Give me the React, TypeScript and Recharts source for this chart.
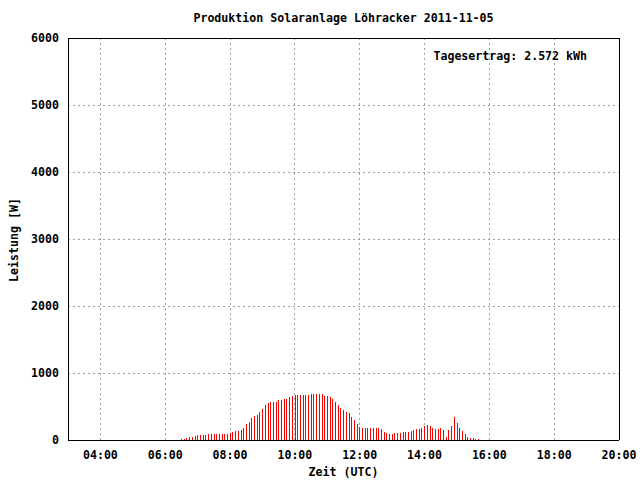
import React from 'react';
import { BarChart, Bar, XAxis, YAxis, CartesianGrid } from 'recharts';

const times: string[] = [
  '06:30','06:35','06:40','06:45','06:50','06:55',
  '07:00','07:05','07:10','07:15','07:20','07:25','07:30','07:35','07:40','07:45','07:50','07:55',
  '08:00','08:05','08:10','08:15','08:20','08:25','08:30','08:35','08:40','08:45','08:50','08:55',
  '09:00','09:05','09:10','09:15','09:20','09:25','09:30','09:35','09:40','09:45','09:50','09:55',
  '10:00','10:05','10:10','10:15','10:20','10:25','10:30','10:35','10:40','10:45','10:50','10:55',
  '11:00','11:05','11:10','11:15','11:20','11:25','11:30','11:35','11:40','11:45','11:50','11:55',
  '12:00','12:05','12:10','12:15','12:20','12:25','12:30','12:35','12:40','12:45','12:50','12:55',
  '13:00','13:05','13:10','13:15','13:20','13:25','13:30','13:35','13:40','13:45','13:50','13:55',
  '14:00','14:05','14:10','14:15','14:20','14:25','14:30','14:35','14:40','14:45','14:50','14:55',
  '15:00','15:05','15:10','15:15','15:20','15:25','15:30','15:35','15:40',
];

const power: number[] = [
  20, 20, 35, 50, 50, 65,
  80, 80, 80, 80, 95, 95, 95, 95, 95, 95, 95, 95,
  110, 120, 130, 140, 155, 185, 245, 275, 335, 365, 380, 425,
  470, 515, 545, 560, 560, 560, 590, 600, 615, 615, 645, 660,
  665, 665, 670, 670, 670, 670, 685, 680, 680, 680, 680, 655,
  655, 640, 610, 565, 515, 485, 455, 425, 400, 350, 295, 245,
  200, 185, 185, 185, 185, 185, 185, 185, 170, 125, 110, 95,
  95, 110, 110, 110, 125, 125, 125, 140, 155, 170, 170, 185,
  215, 230, 215, 185, 170, 170, 185, 155, 50, 155, 215, 350,
  260, 185, 140, 95, 50, 35, 35, 20, 20,
];

const xMajorTicks: number[] = [4, 6, 8, 10, 12, 14, 16, 18, 20];
const xMinorTicks: number[] = [5, 7, 9, 11, 13, 15, 17, 19];
const yTicks: number[] = [0, 1000, 2000, 3000, 4000, 5000, 6000];
const xDomain: [number, number] = [3, 20];
const yDomain: [number, number] = [0, 6000];

const titleText = 'Produktion Solaranlage Löhracker 2011-11-05';
const xLabelText = 'Zeit (UTC)';
const yLabelText = 'Leistung [W]';
const noteText = 'Tagesertrag: 2.572 kWh';

const toHours = (t: string) => {
  const [h, m] = t.split(':').map(Number);
  return h + m / 60;
};

const data = times.map((t, i) => ({ x: toHours(t), w: power[i] }));

const FONT = '"DejaVu Sans Mono", "Liberation Mono", monospace';
const fmtHour = (h: number) => `${String(h).padStart(2, '0')}:00`;

const Impulse = (props: any) => {
  const { x, y, width, height } = props;
  if (!height || height <= 0) return null;
  const cx = Math.round(x + width / 2 - 0.5);
  return <rect x={cx} y={y} width={1} height={height} fill="#ff0000" shapeRendering="crispEdges" />;
};

const tickStyle = { fontFamily: FONT, fontSize: 11.6, fontWeight: 'bold', fill: '#000' } as const;

export default function App() {
  return (
    <div style={{ position: 'absolute', left: 0, top: 0, width: 640, height: 480, background: '#fff' }}>
      <BarChart
        width={640}
        height={480}
        data={data}
        margin={{ top: 38, right: 21, bottom: 10, left: 8 }}
      >
        <CartesianGrid
          xAxisId="main"
          yAxisId="main"
          stroke="#a0a0a0"
          strokeDasharray="2 3"
          shapeRendering="crispEdges"
        />
        <XAxis
          xAxisId="main"
          dataKey="x"
          type="number"
          domain={xDomain}
          allowDataOverflow
          ticks={xMajorTicks}
          tickFormatter={fmtHour}
          tickLine={false}
          tickSize={0}
          tickMargin={11}
          height={30}
          axisLine={{ stroke: '#000', shapeRendering: 'crispEdges' }}
          tick={tickStyle}
          interval={0}
        />
        <XAxis xAxisId="bMaj" type="number" domain={xDomain} allowDataOverflow orientation="bottom" mirror
          ticks={xMajorTicks} tick={false} tickSize={5} axisLine={false}
          tickLine={{ stroke: '#000', shapeRendering: 'crispEdges' }} interval={0} />
        <XAxis xAxisId="bMin" type="number" domain={xDomain} allowDataOverflow orientation="bottom" mirror
          ticks={xMinorTicks} tick={false} tickSize={2} axisLine={false}
          tickLine={{ stroke: '#000', shapeRendering: 'crispEdges' }} interval={0} />
        <XAxis xAxisId="tMaj" type="number" domain={xDomain} allowDataOverflow orientation="top" mirror
          ticks={xMajorTicks} tick={false} tickSize={5}
          axisLine={{ stroke: '#000', shapeRendering: 'crispEdges' }}
          tickLine={{ stroke: '#000', shapeRendering: 'crispEdges' }} interval={0} />
        <XAxis xAxisId="tMin" type="number" domain={xDomain} allowDataOverflow orientation="top" mirror
          ticks={xMinorTicks} tick={false} tickSize={2} axisLine={false}
          tickLine={{ stroke: '#000', shapeRendering: 'crispEdges' }} interval={0} />
        <YAxis
          yAxisId="main"
          type="number"
          domain={yDomain}
          allowDataOverflow
          ticks={yTicks}
          tickLine={false}
          tickSize={0}
          tickMargin={9}
          width={60}
          axisLine={{ stroke: '#000', shapeRendering: 'crispEdges' }}
          tick={tickStyle}
          interval={0}
        />
        <YAxis yAxisId="lMaj" type="number" domain={yDomain} allowDataOverflow orientation="left" mirror
          ticks={yTicks} tick={false} tickSize={5} axisLine={false}
          tickLine={{ stroke: '#000', shapeRendering: 'crispEdges' }} interval={0} />
        <YAxis yAxisId="rMaj" type="number" domain={yDomain} allowDataOverflow orientation="right" mirror
          ticks={yTicks} tick={false} tickSize={5}
          axisLine={{ stroke: '#000', shapeRendering: 'crispEdges' }}
          tickLine={{ stroke: '#000', shapeRendering: 'crispEdges' }} interval={0} />
        <Bar
          xAxisId="main"
          yAxisId="main"
          dataKey="w"
          barSize={1}
          fill="#ff0000"
          shape={Impulse}
          isAnimationActive={false}
        />
      </BarChart>
      <svg
        width={640}
        height={480}
        style={{ position: 'absolute', left: 0, top: 0, pointerEvents: 'none' }}
      >
        <g style={{ fontFamily: FONT, fontSize: 11.6, fontWeight: 'bold' }} fill="#000">
          <text x={343.5} y={22} textAnchor="middle">{titleText}</text>
          <text x={343.5} y={476} textAnchor="middle">{xLabelText}</text>
          <text x={18} y={240} textAnchor="middle" transform="rotate(-90 18 240)">{yLabelText}</text>
          <text x={587} y={60} textAnchor="end">{noteText}</text>
        </g>
      </svg>
    </div>
  );
}
